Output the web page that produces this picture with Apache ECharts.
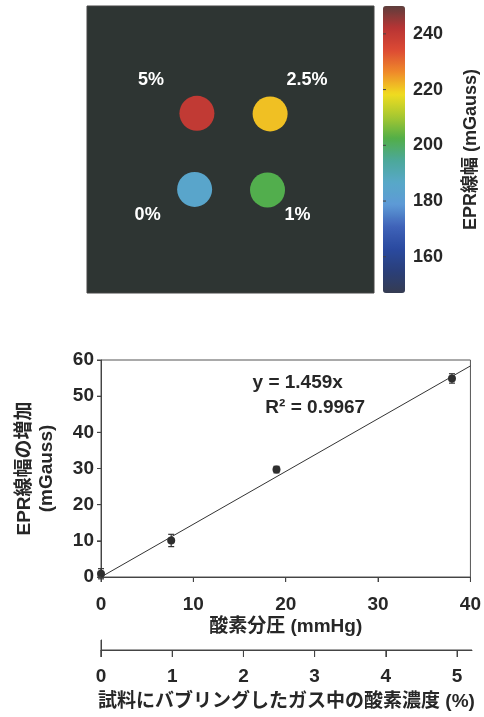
<!DOCTYPE html>
<html><head><meta charset="utf-8">
<script src="https://cdn.jsdelivr.net/npm/echarts@6/dist/echarts.min.js"></script>
<style>html,body{margin:0;padding:0;background:#fff}#chart{width:484px;height:717px}</style>
</head><body><div id="chart"></div>
<script>
// EPR linewidth image of four sample tubes (oxygen % of the bubbled gas)
const wellLabels = ['5%', '2.5%', '0%', '1%'];
const wellX = [38.3, 63.8, 37.5, 62.9];        // field of view, 0–100
const wellY = [62.6, 62.4, 36.1, 35.9];
const wellLinewidth = [240, 221, 185, 202];    // mGauss
const colorbarMin = 147, colorbarMax = 250;
const colorbarTicks = [160, 180, 200, 220, 240];

// Linewidth increase vs. oxygen partial pressure
const pO2 = [0, 7.6, 19, 38];                   // mmHg
const dLinewidth = [0.9, 10.1, 29.7, 54.9];     // mGauss
const dLinewidthErr = [1.4, 1.7, 0.9, 1.3];
const fitSlope = 1.459;
const fitR2 = 0.9967;
const pO2Ticks = [0, 10, 20, 30, 40];
const dLinewidthTicks = [0, 10, 20, 30, 40, 50, 60];
const percentTicks = [0, 1, 2, 3, 4, 5];
const percentMax = 5.21;

const FONT = "'Liberation Sans','Noto Sans CJK JP',sans-serif";
const INK = '#272727';
const AXIS = '#444';
const txt = (size, extra) => Object.assign({fontFamily: FONT, fontWeight: 'bold', fontSize: size, color: INK}, extra || {});

const labelOffsets = [[-46, -33], [37, -34], [-47, 26], [30, 25]];
const wellData = wellLabels.map((name, i) => ({
  value: [wellX[i], wellY[i], wellLinewidth[i]],
  label: {show: true, formatter: name, position: 'inside', offset: labelOffsets[i],
          ...txt(18, {color: '#ffffff'})}
}));

const pointData = pO2.map((x, i) => [x, dLinewidth[i], dLinewidthErr[i]]);
const fitLine = [pO2Ticks[0], pO2Ticks[pO2Ticks.length - 1]].map(x => [x, fitSlope * x]);

const hiddenAxis = (gridIndex, min, max) => ({gridIndex, type: 'value', min, max, show: false});

const chart = echarts.init(document.getElementById('chart'), null, {renderer: 'canvas'});
chart.setOption({
  backgroundColor: '#fff',
  animation: false,
  grid: [
    {left: 87, top: 6, width: 287, height: 287, show: true, backgroundColor: '#2e3533', borderColor: '#444', borderWidth: 1},
    {left: 101, top: 360, width: 371, height: 217, show: true, borderColor: '#555', borderWidth: 1},
    {left: 101, top: 640, width: 371, height: 10},
    {left: 383, top: 6, width: 22, height: 287}
  ],
  xAxis: [
    hiddenAxis(0, 0, 100),
    {gridIndex: 1, type: 'value', min: pO2Ticks[0], max: pO2Ticks[pO2Ticks.length - 1], interval: 10,
     axisLine: {show: true, onZero: false, lineStyle: {color: AXIS}},
     axisTick: {show: true, length: 5, lineStyle: {color: AXIS}},
     splitLine: {show: false}, axisLabel: txt(19, {margin: 18}),
     name: '酸素分圧 (mmHg)', nameLocation: 'middle', nameGap: 40, nameTextStyle: txt(19)},
    {gridIndex: 2, type: 'value', min: 0, max: percentMax, interval: 1,
     axisLine: {show: true, onZero: false, lineStyle: {color: AXIS}},
     axisTick: {show: true, length: 7, lineStyle: {color: AXIS}, customValues: percentTicks},
     axisLabel: txt(19, {margin: 17, customValues: percentTicks}),
     splitLine: {show: false},
     name: '試料にバブリングしたガス中の酸素濃度 (%)', nameLocation: 'middle', nameGap: 42, nameTextStyle: txt(19)},
    hiddenAxis(3, 0, 1)
  ],
  yAxis: [
    hiddenAxis(0, 0, 100),
    {gridIndex: 1, type: 'value', min: dLinewidthTicks[0], max: dLinewidthTicks[dLinewidthTicks.length - 1], interval: 10,
     axisLine: {show: true, onZero: false, lineStyle: {color: AXIS}},
     axisTick: {show: true, length: 4, lineStyle: {color: AXIS}},
     splitLine: {show: false}, axisLabel: txt(19, {margin: 7}),
     name: 'EPR線幅の増加\n(mGauss)', nameLocation: 'middle', nameGap: 43, nameRotate: 90,
     nameTextStyle: txt(19, {lineHeight: 22})},
    {gridIndex: 2, type: 'value', min: 0, max: 1,
     axisLine: {show: true, onZero: false, lineStyle: {color: AXIS}},
     axisTick: {show: false}, axisLabel: {show: false}, splitLine: {show: false}},
    {gridIndex: 3, type: 'value', position: 'right', min: colorbarMin, max: colorbarMax,
     axisLine: {show: false}, splitLine: {show: false}, axisTick: {show: false},
     axisLabel: txt(18, {margin: 8, customValues: colorbarTicks}),
     name: 'EPR線幅 (mGauss)', nameLocation: 'middle', nameGap: 57, nameRotate: 90, nameTextStyle: txt(18)}
  ],
  visualMap: {
    type: 'continuous', min: colorbarMin, max: colorbarMax, seriesIndex: 0, dimension: 2,
    left: 383, top: 6, itemWidth: 22, itemHeight: 287, padding: 0, calculable: false, hoverLink: false,
    textStyle: {color: 'transparent'},
    inRange: {color: ['#353c52', '#2a3f7a', '#2a4aa0', '#3f62b8', '#5d9ad6', '#58a8c8', '#4ca89a',
                      '#52ae48', '#a8c830', '#f0dc20', '#ef8a2a', '#dc4a34', '#b83434', '#5e3e3c']}
  },
  series: [
    {type: 'scatter', xAxisIndex: 0, yAxisIndex: 0, symbolSize: 35, data: wellData, silent: true,
     itemStyle: {opacity: 1}},
    {type: 'line', xAxisIndex: 1, yAxisIndex: 1, data: fitLine, symbol: 'none',
     lineStyle: {color: '#333', width: 1}, silent: true},
    {type: 'custom', xAxisIndex: 1, yAxisIndex: 1, data: pointData, clip: false, z: 6,
     renderItem(params, api) {
       const x = api.value(0), y = api.value(1), e = api.value(2);
       const t = api.coord([x, y + e]), b = api.coord([x, y - e]), c = api.coord([x, y]);
       const s = {stroke: '#333', lineWidth: 1.2};
       return {type: 'group', children: [
         {type: 'line', shape: {x1: t[0], y1: t[1], x2: b[0], y2: b[1]}, style: s},
         {type: 'line', shape: {x1: t[0] - 3, y1: t[1], x2: t[0] + 3, y2: t[1]}, style: s},
         {type: 'line', shape: {x1: b[0] - 3, y1: b[1], x2: b[0] + 3, y2: b[1]}, style: s},
         {type: 'circle', shape: {cx: c[0], cy: c[1], r: 4}, style: {fill: '#2e2e2e'}}
       ]};
     }}
  ]
});

// Axis furniture and regression annotation, placed through the grids' own scales
const px = (gridIndex, v) => chart.convertToPixel({gridIndex}, v);
const seg = (a, b) => ({type: 'line', zlevel: 2, z: 100, silent: true,
  shape: {x1: a[0], y1: a[1], x2: b[0], y2: b[1]}, style: {stroke: AXIS, lineWidth: 1}});
const furniture = [];

const pctStart = px(2, [0, 0]), pctEnd = px(2, [percentMax, 0]);
furniture.push(seg(pctStart, pctEnd));
furniture.push(seg([pctStart[0], pctStart[1] - 10], [pctStart[0], pctStart[1] + 7]));
percentTicks.forEach(v => {
  const p = px(2, [v, 0]);
  furniture.push(seg(p, [p[0], p[1] + 7]));
});
pO2Ticks.forEach(v => {
  const p = px(1, [v, dLinewidthTicks[0]]);
  furniture.push(seg(p, [p[0], p[1] + 5]));
});
dLinewidthTicks.forEach(v => {
  const p = px(1, [pO2Ticks[0], v]);
  furniture.push(seg([p[0] - 4, p[1]], p));
});
colorbarTicks.forEach(v => {
  const p = px(3, [0, v]);
  furniture.push(seg(p, [p[0] + 3, p[1]]));
});

const eqAnchor = px(1, [21.3, 53.6]);
const r2Anchor = px(1, [23.2, 46.7]);
furniture.push(
  {type: 'text', zlevel: 2, x: eqAnchor[0], y: eqAnchor[1], silent: true,
   style: {text: 'y = ' + fitSlope + 'x', align: 'center', verticalAlign: 'middle', font: 'bold 19px ' + FONT, fill: INK}},
  {type: 'text', zlevel: 2, x: r2Anchor[0], y: r2Anchor[1], silent: true,
   style: {text: 'R² = ' + fitR2.toFixed(4), align: 'center', verticalAlign: 'middle', font: 'bold 19px ' + FONT, fill: INK}}
);
chart.setOption({graphic: furniture});
</script></body></html>
